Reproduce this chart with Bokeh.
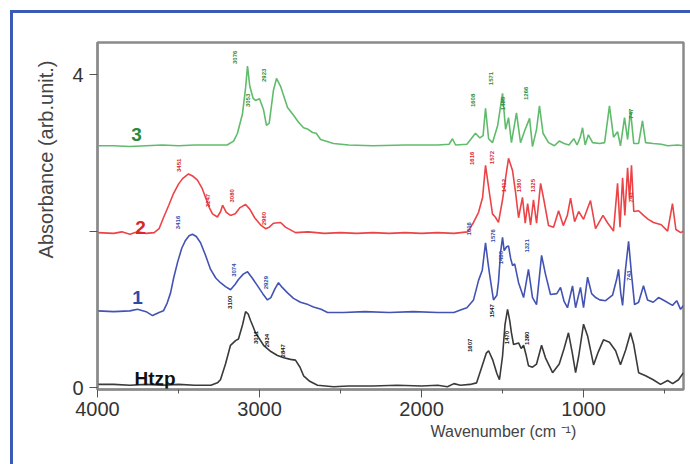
import math
from bokeh.plotting import figure
from bokeh.models import Range1d, FixedTicker, Title, ColumnDataSource, InlineStyleSheet
from bokeh.core.properties import value
from bokeh.embed import file_html
from bokeh.resources import INLINE

# ---------------- data (wavenumber cm-1, absorbance arb. units) ----------------
htzp_wn = [4000, 3900, 3800, 3700, 3600, 3500, 3400, 3300, 3260, 3241, 3210, 3179, 3148, 3130, 3105, 3086,
           3070, 3056, 3040, 3025, 3000, 2975, 2930, 2889, 2850, 2809, 2778, 2750, 2728, 2690, 2642, 2543,
           2450, 2300, 2150, 2000, 1900, 1840, 1800, 1760, 1700, 1660, 1630, 1600, 1586, 1560, 1535, 1519,
           1500, 1485, 1469, 1455, 1445, 1432, 1401, 1385, 1370, 1355, 1340, 1315, 1290, 1259, 1235, 1191,
           1150, 1120, 1093, 1070, 1049, 1030, 1000, 975, 938, 910, 877, 840, 802, 772, 740, 710, 690, 660,
           617, 570, 525, 481, 450, 414, 383]
htzp_ab = [0.04, 0.04, 0.03, 0.04, 0.03, 0.04, 0.03, 0.03, 0.06, 0.10, 0.30, 0.54, 0.60, 0.62, 0.80, 0.97,
           0.94, 0.86, 0.78, 0.70, 0.62, 0.54, 0.46, 0.41, 0.38, 0.36, 0.35, 0.26, 0.15, 0.08, 0.03, 0.01,
           0.02, 0.02, 0.03, 0.02, 0.03, 0.01, 0.05, 0.03, 0.04, 0.06, 0.25, 0.44, 0.47, 0.35, 0.18, 0.10,
           0.40, 0.80, 1.00, 0.85, 0.70, 0.55, 0.57, 0.50, 0.54, 0.42, 0.28, 0.26, 0.30, 0.54, 0.38, 0.19,
           0.30, 0.50, 0.70, 0.45, 0.19, 0.40, 0.81, 0.66, 0.29, 0.45, 0.61, 0.58, 0.47, 0.29, 0.48, 0.70,
           0.55, 0.19, 0.15, 0.10, 0.04, 0.09, 0.05, 0.10, 0.19]

s1_wn = [4000, 3900, 3800, 3753, 3700, 3660, 3620, 3593, 3570, 3549, 3530, 3506, 3480, 3457, 3435, 3414,
         3390, 3364, 3335, 3302, 3270, 3241, 3210, 3179, 3150, 3130, 3100, 3074, 3045, 3012, 2980, 2951,
         2930, 2905, 2883, 2860, 2827, 2790, 2747, 2700, 2667, 2620, 2580, 2481, 2350, 2200, 2050, 1900,
         1800, 1760, 1720, 1679, 1648, 1625, 1605, 1590, 1580, 1556, 1535, 1525, 1512, 1500, 1490, 1475,
         1463, 1450, 1438, 1425, 1401, 1370, 1340, 1315, 1290, 1259, 1235, 1204, 1165, 1142, 1120, 1099,
         1068, 1049, 1019, 1000, 975, 950, 925, 900, 864, 821, 796, 784, 770, 759, 741, 722, 704, 685, 660,
         630, 605, 570, 537, 500, 451, 425, 401, 383]
s1_ab = [0.98, 0.97, 0.98, 1.00, 0.97, 0.92, 0.96, 0.98, 1.08, 1.21, 1.40, 1.60, 1.78, 1.88, 1.94, 1.96,
         1.93, 1.85, 1.70, 1.51, 1.40, 1.34, 1.29, 1.25, 1.32, 1.38, 1.45, 1.48, 1.40, 1.30, 1.20, 1.12,
         1.15, 1.26, 1.34, 1.28, 1.21, 1.14, 1.09, 1.06, 1.03, 1.00, 0.96, 0.96, 0.97, 0.96, 0.97, 0.96,
         0.96, 0.99, 1.02, 1.12, 1.37, 1.50, 1.85, 1.60, 1.45, 1.12, 1.18, 1.35, 1.73, 1.92, 1.75, 1.80,
         1.81, 1.65, 1.56, 1.58, 1.34, 1.15, 1.51, 1.15, 1.06, 1.69, 1.45, 1.19, 1.20, 1.28, 1.10, 1.02,
         1.30, 1.02, 1.28, 1.02, 1.41, 1.20, 1.15, 1.12, 1.11, 1.18, 1.38, 1.51, 1.20, 1.05, 1.51, 1.87,
         1.45, 1.06, 1.09, 1.30, 1.12, 1.09, 1.15, 1.11, 1.05, 1.11, 1.00, 1.05]

s2_wn = [4000, 3900, 3850, 3800, 3753, 3700, 3650, 3620, 3593, 3560, 3531, 3500, 3475, 3438, 3410, 3383,
         3355, 3333, 3310, 3290, 3260, 3240, 3228, 3205, 3179, 3150, 3120, 3086, 3060, 3030, 2994, 2963,
         2940, 2914, 2870, 2840, 2778, 2700, 2600, 2500, 2400, 2300, 2200, 2100, 2000, 1900, 1800, 1716,
         1679, 1648, 1623, 1605, 1586, 1562, 1545, 1525, 1500, 1481, 1463, 1438, 1420, 1401, 1377, 1360,
         1345, 1327, 1309, 1290, 1265, 1245, 1216, 1185, 1154, 1125, 1100, 1080, 1055, 1030, 1000, 957,
         926, 880, 850, 815, 790, 775, 759, 745, 728, 716, 704, 690, 660, 630, 600, 568, 520, 481, 451,
         430, 400, 383]
s2_ab = [1.98, 1.97, 1.99, 1.96, 1.99, 1.97, 1.98, 2.03, 2.17, 2.33, 2.48, 2.60, 2.67, 2.73, 2.70, 2.65,
         2.55, 2.43, 2.30, 2.22, 2.18, 2.25, 2.33, 2.24, 2.20, 2.22, 2.30, 2.34, 2.28, 2.17, 2.08, 2.03,
         2.05, 2.10, 2.11, 2.05, 1.98, 1.99, 1.97, 1.98, 1.97, 1.98, 1.97, 1.98, 1.97, 1.98, 1.97, 1.99,
         2.11, 2.24, 2.43, 2.84, 2.56, 2.22, 2.18, 2.11, 2.40, 2.68, 2.93, 2.77, 2.50, 2.17, 2.43, 2.10,
         2.35, 2.08, 2.40, 2.10, 2.61, 2.40, 2.07, 2.05, 2.26, 2.07, 2.20, 2.42, 2.12, 2.25, 2.15, 2.39,
         2.03, 2.20, 2.10, 2.00, 2.61, 2.05, 2.68, 2.20, 2.81, 2.40, 2.84, 2.25, 2.26, 2.20, 2.15, 2.11,
         2.08, 2.00, 2.35, 2.02, 1.98, 2.00]

s3_wn = [4000, 3900, 3800, 3700, 3600, 3500, 3400, 3300, 3200, 3160, 3136, 3105, 3086, 3074, 3060, 3040,
         3025, 3000, 2975, 2957, 2940, 2914, 2895, 2870, 2827, 2790, 2759, 2728, 2700, 2673, 2650, 2623,
         2543, 2450, 2300, 2100, 1900, 1830, 1809, 1790, 1720, 1667, 1640, 1620, 1605, 1586, 1562, 1530,
         1500, 1481, 1463, 1445, 1414, 1389, 1360, 1333, 1315, 1290, 1272, 1250, 1216, 1180, 1150, 1120,
         1090, 1060, 1040, 1020, 1006, 990, 970, 944, 900, 870, 840, 815, 790, 772, 747, 728, 710, 690,
         660, 636, 617, 570, 520, 480, 420, 383]
s3_ab = [3.09, 3.09, 3.08, 3.09, 3.10, 3.09, 3.10, 3.10, 3.10, 3.15, 3.25, 3.50, 3.83, 4.11, 3.85, 3.70,
         3.67, 3.69, 3.55, 3.35, 3.38, 3.80, 3.95, 3.85, 3.58, 3.48, 3.39, 3.32, 3.30, 3.26, 3.25, 3.17,
         3.12, 3.10, 3.09, 3.10, 3.10, 3.11, 3.18, 3.10, 3.11, 3.25, 3.19, 3.22, 3.57, 3.18, 3.13, 3.35,
         3.76, 3.30, 3.45, 3.13, 3.51, 3.13, 3.30, 3.44, 3.08, 3.30, 3.60, 3.25, 3.13, 3.09, 3.15, 3.12,
         3.10, 3.18, 3.10, 3.20, 3.32, 3.10, 3.23, 3.13, 3.12, 3.13, 3.60, 3.20, 3.27, 3.09, 3.45, 3.17,
         3.54, 3.12, 3.12, 3.41, 3.13, 3.12, 3.11, 3.09, 3.10, 3.09]

# peak annotations (wavenumber, height, text)
pk3_wn = [3154, 2975, 3074, 1685, 1574, 1500, 1358, 710]
pk3_y = [4.22, 3.99, 3.67, 3.67, 3.95, 3.63, 3.76, 3.50]
pk3_t = ["3076", "2923", "3053", "1608", "1571", "1485", "1266", "747"]
pk2_wn = [3500, 3321, 3167, 2975, 1691, 1562, 1494, 1401, 1309, 710]
pk2_y = [2.84, 2.39, 2.45, 2.16, 2.93, 2.94, 2.58, 2.58, 2.58, 2.43]
pk2_t = ["3451", "3247", "3080", "2960", "1616", "1572", "1412", "1360", "1325", "740"]
pk1_wn = [3506, 3160, 2963, 1710, 1556, 1512, 1352, 722]
pk1_y = [2.11, 1.50, 1.34, 2.03, 1.94, 1.66, 1.81, 1.43]
pk1_t = ["3416", "3074", "2929", "1616", "1576", "1480", "1321", "743"]
pk0_wn = [3185, 3019, 2951, 2858, 1698, 1568, 1475, 1346]
pk0_y = [1.09, 0.64, 0.60, 0.47, 0.54, 0.98, 0.64, 0.63]
pk0_t = ["3100", "3011", "2934", "2847", "1607", "1547", "1470", "1380"]

series_names = ["3", "2", "1", "Htzp"]
name_wn = [3759, 3735, 3753, 3645]
name_y = [3.23, 2.04, 1.15, 0.12]

x_major = [4000, 3000, 2000, 1000]
x_minor = [3500, 2500, 1500, 500]
y_major = [0, 2, 4]

FONT = "Liberation Sans"
C3, C2, C1, C0 = "#60bc6c", "#ec4347", "#4353b3", "#3a3a3a"
T3, T2, T1, T0 = "#2a8a3a", "#d8262a", "#2e49a8", "#111111"

# canvas starts at (13, 13) in the window; blue frame lines drawn at its left and top
p = figure(width=677, height=451, output_backend="svg", toolbar_location=None,
           x_range=Range1d(4000, 383), y_range=Range1d(-0.025, 4.41),
           min_border_left=84, min_border_right=7, min_border_top=29, min_border_bottom=75)
p.styles = {"margin-left": "13px", "margin-top": "13px", "overflow": "visible",
            "border": "none", "outline": "none", "box-shadow": "none", "background": "white"}
p.stylesheets = [InlineStyleSheet(css=(
    ":host::before {content: ''; position: absolute; left: -3px; top: -3px; width: 3px; "
    "height: 454px; background: #3a5ab4; z-index: 5;}"
    ":host::after {content: ''; position: absolute; left: -3px; top: -3px; width: 680px; "
    "height: 3px; background: #3a5ab4; z-index: 5;}"))]
p.xgrid.visible = False
p.ygrid.visible = False
p.background_fill_color = "white"
p.border_fill_color = "white"
p.outline_line_color = "#8a8a8a"
p.outline_line_width = 2.5

p.xaxis.ticker = FixedTicker(ticks=x_major, minor_ticks=x_minor)
p.yaxis.ticker = FixedTicker(ticks=y_major)
p.yaxis.major_label_overrides = {0: "0", 2: "", 4: "4"}
for ax in (p.xaxis, p.yaxis):
    ax.axis_line_color = "#8a8a8a"
    ax.axis_line_width = 2
    ax.major_tick_line_color = "#555555"
    ax.minor_tick_line_color = "#555555"
    ax.major_tick_out = 8
    ax.major_tick_in = 0
    ax.minor_tick_out = 4
    ax.minor_tick_in = 0
    ax.major_label_text_font = FONT
    ax.major_label_text_font_size = "20px"
    ax.major_label_text_color = "#333333"
p.yaxis.minor_tick_line_color = None
p.xaxis.major_label_standoff = 4
p.yaxis.major_label_standoff = 6

p.line(s3_wn, s3_ab, line_color=C3, line_width=1.6)
p.line(s2_wn, s2_ab, line_color=C2, line_width=1.6)
p.line(s1_wn, s1_ab, line_color=C1, line_width=1.6)
p.line(htzp_wn, htzp_ab, line_color=C0, line_width=1.6)

for wn, yy, tt, col in ((pk3_wn, pk3_y, pk3_t, T3), (pk2_wn, pk2_y, pk2_t, T2),
                        (pk1_wn, pk1_y, pk1_t, T1), (pk0_wn, pk0_y, pk0_t, T0)):
    src = ColumnDataSource(dict(x=wn, y=yy, t=tt))
    p.text(x="x", y="y", text="t", source=src, angle=math.pi / 2, text_color=col,
           text_font=value(FONT), text_font_size="6px", text_font_style="bold",
           text_align="center", text_baseline="middle")

name_cols = [T3, T2, T1, T0]
src_n = ColumnDataSource(dict(x=name_wn, y=name_y, t=series_names, c=name_cols))
p.text(x="x", y="y", text="t", source=src_n, text_color="c", text_font=value(FONT),
       text_font_size="19px", text_font_style="bold", text_align="center", text_baseline="alphabetic")

p.add_layout(Title(text="Wavenumber (cm \u207b\u00b9)", align="left", offset=333, standoff=5,
                   text_font=FONT, text_font_size="16px", text_color="#444444",
                   text_font_style="normal"), "below")
p.add_layout(Title(text="Absorbance (arb.unit.)", align="right", offset=18, standoff=26,
                   text_font=FONT, text_font_size="20px", text_color="#444444",
                   text_font_style="normal"), "left")

open("out.html", "w").write(file_html(p, INLINE))
